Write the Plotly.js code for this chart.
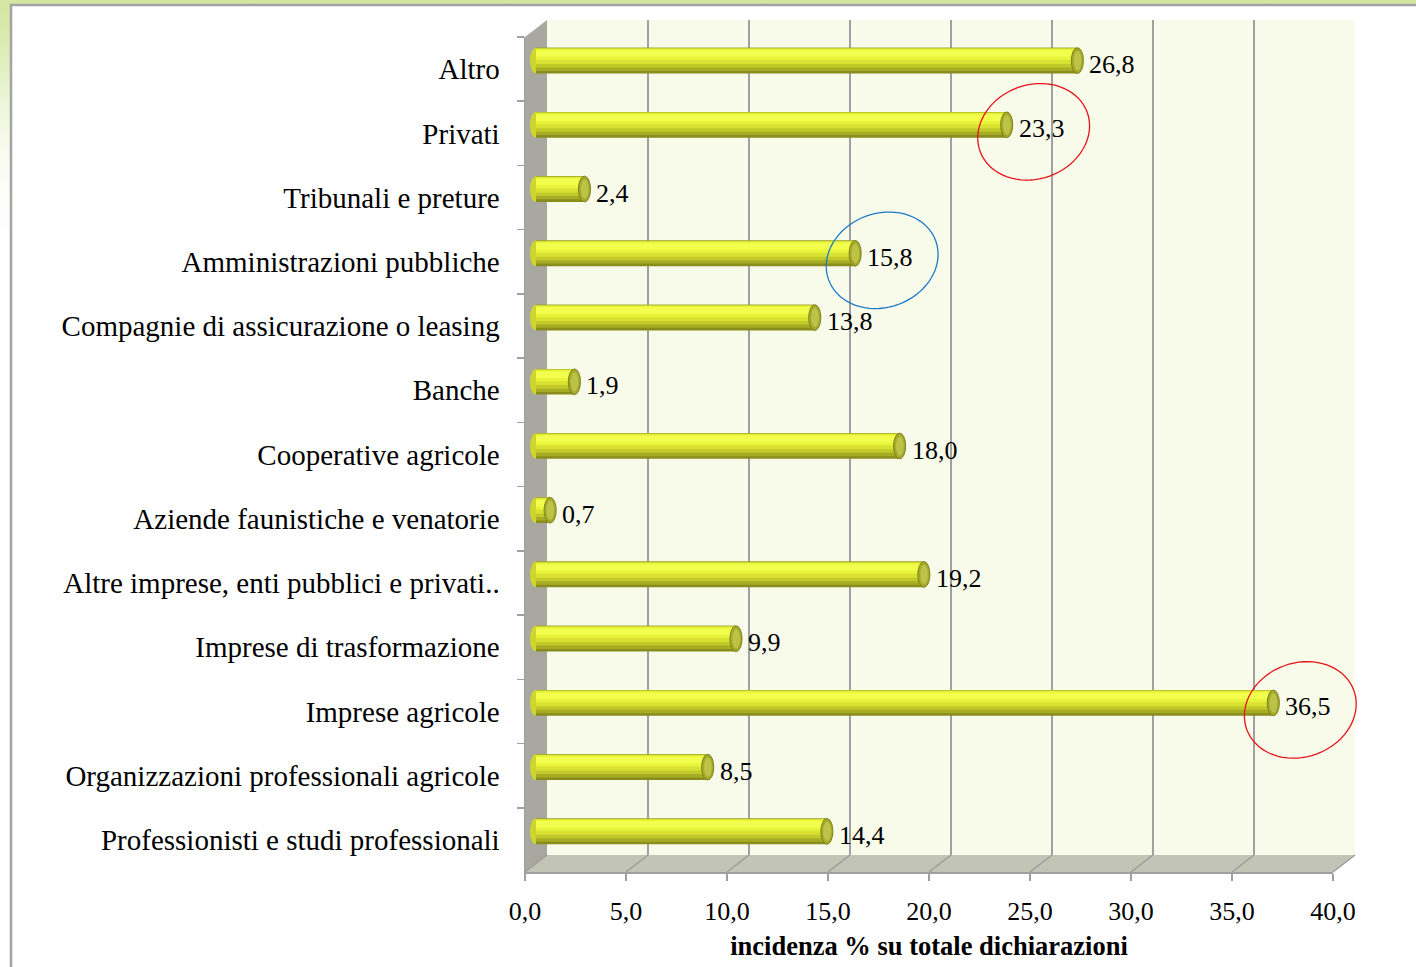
<!DOCTYPE html>
<html><head><meta charset="utf-8">
<script src="https://cdn.plot.ly/plotly-3.0.1.min.js"></script>
<style>
html,body{margin:0;padding:0;width:1416px;height:967px;overflow:hidden;
background:linear-gradient(to bottom,#d2e7a0 0px,#d9ebb0 40px,#ecf5d8 100px,#f9fcf2 160px,#ffffff 240px);}
#chart{width:1416px;height:967px;}
</style></head><body><div id="chart"></div><script>
// ---- data ----
const categories = [
  'Altro',
  'Privati',
  'Tribunali e preture',
  'Amministrazioni pubbliche',
  'Compagnie di assicurazione o leasing',
  'Banche',
  'Cooperative agricole',
  'Aziende faunistiche e venatorie',
  'Altre imprese, enti pubblici e privati..',
  'Imprese di trasformazione',
  'Imprese agricole',
  'Organizzazioni professionali agricole',
  'Professionisti e studi professionali'
];
const values = [26.8, 23.3, 2.4, 15.8, 13.8, 1.9, 18.0, 0.7, 19.2, 9.9, 36.5, 8.5, 14.4];
const xTickValues = [0, 5, 10, 15, 20, 25, 30, 35, 40];
const xTitle = 'incidenza % su totale dichiarazioni';
const highlightCategories = ['Privati', 'Amministrazioni pubbliche', 'Imprese agricole'];
const highlightColors = ['#E5141B', '#1E7AC8', '#E5141B'];

// ---- geometry / style ----
const W = 1416, H = 967;
const px = x => x / W, py = y => 1 - y / H;
const FRONT = {x0: 525, x1: 1333, y0: 37, y1: 872};
const BACK = {x0: 547, x1: 1355, y0: 20, y1: 855};
const MID = {x0: 536, y0: 28.5, y1: 863.5};
const XMAX = 40;
const UNIT = (FRONT.x1 - FRONT.x0) / XMAX;
const MID_MIN = -1, MID_MAX = 43;
const serif = "'Liberation Serif','Times New Roman',serif";
const fmt = v => v.toFixed(1).replace('.', ',');
const nCat = categories.length;
const idx = categories.map((c, i) => i);

const layers = [
  {off: -0.2, w: 0.4, c: '#8A8C1C'},
  {off: -0.2, w: 0.36, c: '#A6AC24'},
  {off: -0.193, w: 0.30, c: '#C2CA2A'},
  {off: -0.188, w: 0.24, c: '#D8E232'},
  {off: -0.18, w: 0.17, c: '#E8F43A'},
  {off: -0.16, w: 0.10, c: '#F2FF4C'}
];

const traces = [];
traces.push({type: 'scatter', mode: 'markers', x: xTickValues, y: xTickValues.map(() => 0),
  xaxis: 'x', yaxis: 'y', marker: {opacity: 0}, hoverinfo: 'skip', showlegend: false});
traces.push({type: 'scatter', mode: 'markers', x: values, y: categories,
  xaxis: 'x2', yaxis: 'y2', marker: {opacity: 0}, hoverinfo: 'skip', showlegend: false});
layers.forEach(L => traces.push({
  type: 'bar', orientation: 'h', x: values, y: categories, xaxis: 'x3', yaxis: 'y3',
  width: L.w, offset: L.off, marker: {color: L.c, line: {width: 0}},
  hoverinfo: 'skip', showlegend: false
}));

const shapes = [];
shapes.push({type: 'rect', xref: 'paper', yref: 'paper', x0: px(11), x1: px(1430), y0: py(990), y1: py(5),
  fillcolor: '#FFFFFF', line: {color: '#A3A3A3', width: 2.5}, layer: 'below'});
shapes.push({type: 'rect', xref: 'paper', yref: 'paper', x0: px(BACK.x0), x1: px(BACK.x1), y0: py(BACK.y1), y1: py(BACK.y0),
  fillcolor: '#F8FAEA', line: {width: 0}, layer: 'below'});
shapes.push({type: 'path', xref: 'paper', yref: 'paper',
  path: `M${px(FRONT.x0)},${py(FRONT.y0)} L${px(BACK.x0)},${py(BACK.y0)} L${px(BACK.x0)},${py(BACK.y1)} L${px(FRONT.x0)},${py(FRONT.y1)} Z`,
  fillcolor: '#A8A8A0', line: {width: 0}, layer: 'below'});
shapes.push({type: 'path', xref: 'paper', yref: 'paper',
  path: `M${px(FRONT.x0)},${py(FRONT.y1)} L${px(BACK.x0)},${py(BACK.y1)} L${px(BACK.x1)},${py(BACK.y1)} L${px(FRONT.x1)},${py(FRONT.y1)} Z`,
  fillcolor: '#C2C4B6', line: {width: 0}, layer: 'below'});
xTickValues.forEach(t => {
  const f = t / XMAX;
  shapes.push({type: 'line', xref: 'paper', yref: 'paper',
    x0: px(FRONT.x0 + f * (FRONT.x1 - FRONT.x0)), y0: py(FRONT.y1),
    x1: px(BACK.x0 + f * (BACK.x1 - BACK.x0)), y1: py(BACK.y1),
    line: {color: '#9C9C9C', width: 1.5}, layer: 'below'});
});
idx.forEach(i => {
  const v = values[i];
  shapes.push({type: 'circle', xref: 'x3', yref: 'y3', x0: -0.3, x1: 0.3, y0: i - 0.2, y1: i + 0.2,
    fillcolor: '#CDD52E', line: {width: 0}, layer: 'below'});
  shapes.push({type: 'circle', xref: 'x3', yref: 'y3', x0: v - 0.3, x1: v + 0.3, y0: i - 0.2, y1: i + 0.2,
    fillcolor: '#A4AA2C', line: {color: '#80841A', width: 1}, layer: 'above'});
  shapes.push({type: 'circle', xref: 'x3', yref: 'y3', x0: v - 0.18, x1: v + 0.2, y0: i - 0.15, y1: i + 0.15,
    fillcolor: '#BDC347', line: {width: 0}, layer: 'above'});
});
function ellipsePath(cx, cy, rx, ry, angDeg) {
  const a = angDeg * Math.PI / 180;
  let s = '';
  for (let k = 0; k <= 72; k++) {
    const t = k / 72 * 2 * Math.PI;
    const x = cx + rx * Math.cos(t) * Math.cos(a) - ry * Math.sin(t) * Math.sin(a);
    const y = cy + rx * Math.cos(t) * Math.sin(a) + ry * Math.sin(t) * Math.cos(a);
    s += (k === 0 ? 'M' : 'L') + x.toFixed(2) + ',' + y.toFixed(2) + ' ';
  }
  return s + 'Z';
}
highlightCategories.forEach((c, h) => {
  const i = categories.indexOf(c);
  shapes.push({type: 'path', xref: 'x3', yref: 'y3', xsizemode: 'pixel', ysizemode: 'pixel',
    xanchor: values[i], yanchor: i, path: ellipsePath(27, -7, 57, 47, 20),
    fillcolor: 'rgba(0,0,0,0)', line: {color: highlightColors[h], width: 1.3}, layer: 'above'});
});

const annotations = idx.map(i => ({
  xref: 'x3', yref: 'y3', x: values[i], y: i, text: fmt(values[i]),
  xanchor: 'left', yanchor: 'middle', xshift: 10, yshift: -4, showarrow: false,
  font: {family: serif, size: 26, color: '#000'}
}));

const layout = {
  width: W, height: H,
  margin: {l: 0, r: 0, t: 0, b: 0},
  paper_bgcolor: 'rgba(0,0,0,0)', plot_bgcolor: 'rgba(0,0,0,0)',
  separators: ',.',
  barmode: 'overlay',
  showlegend: false,
  font: {family: serif, color: '#000'},
  xaxis: {domain: [px(BACK.x0), px(BACK.x1)], anchor: 'y', range: [0, XMAX], tickmode: 'array', tickvals: xTickValues,
    showgrid: true, gridcolor: '#A0A0A0', gridwidth: 2.5, showticklabels: false, ticks: '', zeroline: false, showline: false},
  yaxis: {domain: [py(BACK.y1), py(BACK.y0)], anchor: 'x', range: [-1, 1], visible: false},
  xaxis2: {domain: [px(FRONT.x0), px(FRONT.x1)], anchor: 'y2', range: [0, XMAX], tickmode: 'array', tickvals: xTickValues,
    tickformat: '.1f', ticks: 'outside', ticklen: 7, tickwidth: 1.5, tickcolor: '#A0A0A0',
    showline: true, linecolor: '#A0A0A0', linewidth: 2, showgrid: false, zeroline: false,
    tickfont: {family: serif, size: 26, color: '#000'}, ticklabelstandoff: 8,
    title: {text: '<b>' + xTitle + '</b>', font: {family: serif, size: 26.5, color: '#000'}, standoff: 11}},
  yaxis2: {domain: [py(FRONT.y1), py(FRONT.y0)], anchor: 'x2', type: 'category', categoryorder: 'array',
    categoryarray: categories, range: [nCat - 0.5, -0.5], ticks: 'outside', tickson: 'boundaries', ticklen: 7,
    tickwidth: 1.5, tickcolor: '#A0A0A0', showline: true, linecolor: '#A0A0A0', linewidth: 1.5,
    showgrid: false, zeroline: false, tickfont: {family: serif, size: 29, color: '#000'}, ticklabelstandoff: 18},
  xaxis3: {domain: [px(MID.x0 + MID_MIN * UNIT), px(MID.x0 + MID_MAX * UNIT)], anchor: 'y3',
    range: [MID_MIN, MID_MAX], visible: false},
  yaxis3: {domain: [py(MID.y1), py(MID.y0)], anchor: 'x3', type: 'category', categoryorder: 'array',
    categoryarray: categories, range: [nCat - 0.5, -0.5], visible: false},
  shapes: shapes,
  annotations: annotations
};

Plotly.newPlot('chart', traces, layout, {displayModeBar: false, staticPlot: true});
</script></body></html>
